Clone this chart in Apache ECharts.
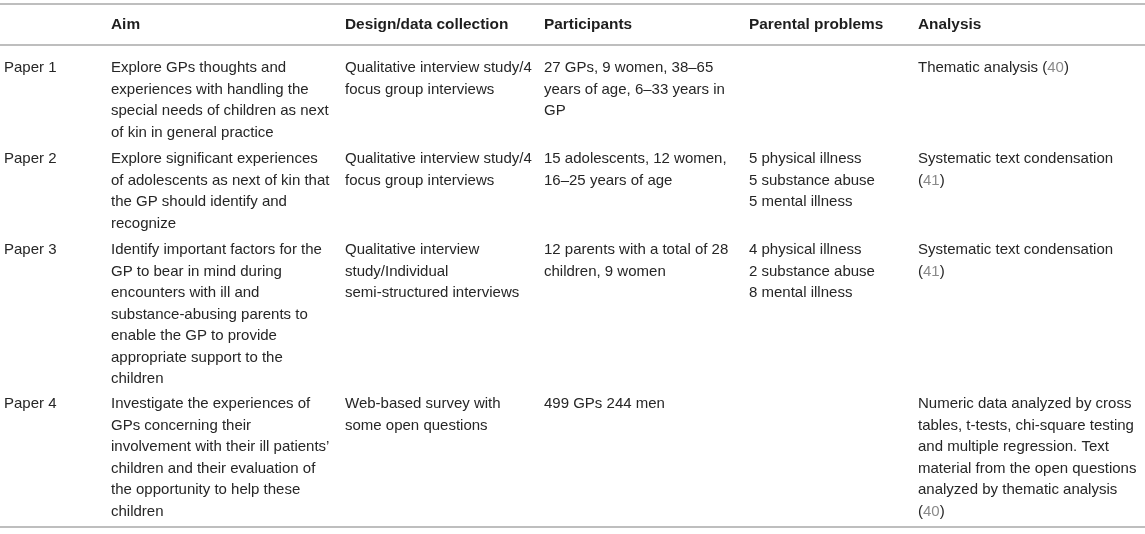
<!DOCTYPE html>
<html>
<head>
<meta charset="utf-8">
<script src="https://cdn.jsdelivr.net/npm/echarts@6/dist/echarts.min.js"></script>
<style>
  html, body { margin: 0; padding: 0; background: #fff; }
  #main { width: 1145px; height: 534px; }
</style>
</head>
<body>
<div id="main"></div>
<script>
// table content, one array per column; each cell is a list of lines
// {r|..} marks a reference number drawn in grey
var headers = ['', 'Aim', 'Design/data collection', 'Participants', 'Parental problems', 'Analysis'];

var papers = [['Paper 1'], ['Paper 2'], ['Paper 3'], ['Paper 4']];

var aims = [
  ['Explore GPs thoughts and', 'experiences with handling the', 'special needs of children as next', 'of kin in general practice'],
  ['Explore significant experiences', 'of adolescents as next of kin that', 'the GP should identify and', 'recognize'],
  ['Identify important factors for the', 'GP to bear in mind during', 'encounters with ill and', 'substance-abusing parents to',
   'enable the GP to provide', 'appropriate support to the', 'children'],
  ['Investigate the experiences of', 'GPs concerning their', 'involvement with their ill patients\u2019', 'children and their evaluation of',
   'the opportunity to help these', 'children']
];

var designs = [
  ['Qualitative interview study/4', 'focus group interviews'],
  ['Qualitative interview study/4', 'focus group interviews'],
  ['Qualitative interview', 'study/Individual', 'semi-structured interviews'],
  ['Web-based survey with', 'some open questions']
];

var participants = [
  ['27 GPs, 9 women, 38\u201365', 'years of age, 6\u201333 years in', 'GP'],
  ['15 adolescents, 12 women,', '16\u201325 years of age'],
  ['12 parents with a total of 28', 'children, 9 women'],
  ['499 GPs 244 men']
];

var problems = [
  [],
  ['5 physical illness', '5 substance abuse', '5 mental illness'],
  ['4 physical illness', '2 substance abuse', '8 mental illness'],
  []
];

var analyses = [
  ['Thematic analysis ({r|40})'],
  ['Systematic text condensation', '({r|41})'],
  ['Systematic text condensation', '({r|41})'],
  ['Numeric data analyzed by cross', 'tables, t-tests, chi-square testing', 'and multiple regression. Text',
   'material from the open questions', 'analyzed by thematic analysis', '({r|40})']
];

var columns = [papers, aims, designs, participants, problems, analyses];

// layout
var colX = [4, 111, 345, 544, 749, 918];
var rowY = [68, 159, 250, 404];
var headerY = 25;
var lineH = 21.5;
var ruleY = [4, 45, 527];
var font = '15px "Liberation Sans", Arial, sans-serif';
var boldFont = 'bold 15.4px "Liberation Sans", Arial, sans-serif';

var elements = [];

ruleY.forEach(function (y) {
  elements.push({
    type: 'line',
    shape: { x1: 0, y1: y, x2: 1145, y2: y },
    style: { stroke: '#a8a8a8', lineWidth: 1.6 }
  });
});

headers.forEach(function (h, c) {
  if (!h) return;
  elements.push({
    type: 'text', x: colX[c], y: headerY,
    style: { text: h, font: boldFont, fill: '#1e1e1e', verticalAlign: 'middle' }
  });
});

columns.forEach(function (col, c) {
  col.forEach(function (cell, r) {
    cell.forEach(function (line, i) {
      elements.push({
        type: 'text', x: colX[c], y: rowY[r] + i * lineH,
        style: {
          text: line, font: font, fill: '#262626', verticalAlign: 'middle',
          rich: { r: { fill: '#8a8a8a', font: font } }
        }
      });
    });
  });
});

var chart = echarts.init(document.getElementById('main'));
chart.setOption({
  backgroundColor: '#ffffff',
  animation: false,
  graphic: { elements: elements }
});
</script>
</body>
</html>
